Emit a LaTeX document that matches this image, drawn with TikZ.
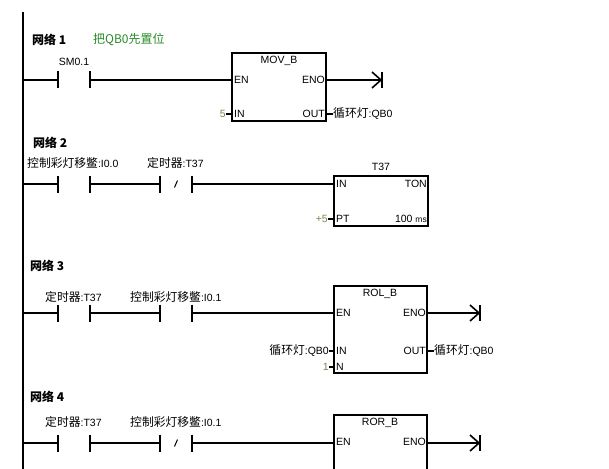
\documentclass[tikz,border=0pt]{standalone}
\usepackage{fontspec}
\setmainfont{Liberation Sans}
\newfontfamily\cjk{Noto Sans CJK SC}
\usetikzlibrary{calc}
\definecolor{cmtgreen}{RGB}{40,140,40}
\definecolor{constcol}{RGB}{130,130,80}
\newcommand{\zh}[1]{{\fontsize{11.8}{11.8}\selectfont\cjk #1}}
\tikzset{
  wire/.style={line width=1.3pt},
  plate/.style={line width=2pt},
  fbox/.style={draw, line width=1.5pt},
  lbl/.style={inner sep=0pt, font=\fontsize{10.5}{10.5}\selectfont},
  netttl/.style={inner sep=0pt, anchor=west, font=\fontsize{12}{12}\selectfont\cjk\bfseries},
  pin/.style={inner sep=0pt, font=\fontsize{10.5}{10.5}\selectfont},
  constv/.style={inner sep=0pt, anchor=east, text=constcol, font=\fontsize{10.5}{10.5}\selectfont},
}
% contact: #1 name prefix, #2 x-left, #3 y
\newcommand{\nocontact}[3]{%
  \coordinate (#1l) at (#2,#3);
  \coordinate (#1r) at (#2+32,#3);
  \draw[plate] (#2,#3-8.5) -- (#2,#3+8.5);
  \draw[plate] (#2+32,#3-8.5) -- (#2+32,#3+8.5);
}
\newcommand{\nccontact}[3]{%
  \nocontact{#1}{#2}{#3}
  \draw[line width=1pt] (#2+14.5,#3+3.5) -- (#2+17.5,#3-3.5);
}
\newcommand{\coil}[3]{%
  \coordinate (#1) at (#2,#3);
  \draw[line width=1.6pt] (#2-10,#3-8) -- (#2-1,#3) -- (#2-10,#3+8);
  \draw[line width=1.6pt] (#2,#3-8) -- (#2,#3+8);
}
\begin{document}
\begin{tikzpicture}[x=1pt,y=-1pt]
\useasboundingbox (0,0) rectangle (609,468);
\clip (0,0) rectangle (609,468);
\fill[white] (0,0) rectangle (609,468);
% power rail
\coordinate (railtop) at (23,12);
\coordinate (railbot) at (23,470);
\draw[line width=2.2pt] (railtop) -- (railbot);

% ================= Network 1
\node[netttl] (n1) at (32,40) {网络 1};
\node[inner sep=0pt, anchor=west, text=cmtgreen, font=\fontsize{12}{12}\selectfont\cjk] (c1) at (93,40) {把QB0先置位};
\coordinate (r1) at (23,80);
\nocontact{a1}{58}{80}
\node[lbl] (la1) at (74,62) {SM0.1};
\draw[fbox] (232,53) rectangle (326,121);
\node[pin] (movt) at (279,61) {MOV\_B};
\node[pin, anchor=west] (moven) at (234,80) {EN};
\node[pin, anchor=east] (moveno) at (325,80) {ENO};
\node[pin, anchor=west] (movin) at (234,114) {IN};
\node[pin, anchor=east] (movout) at (325,114) {OUT};
\coordinate (movENp) at (232,80);
\coordinate (movENOp) at (326,80);
\coordinate (movINp) at (232,114);
\coordinate (movOUTp) at (326,114);
\node[constv] (k5) at (226,114) {5};
\node[lbl, anchor=west] (movo) at (333,114) {\zh{循环灯}:QB0};
\draw[wire] (k5.east) -- (movINp);
\draw[wire] (movOUTp) -- (movo.west);
\draw[wire] (r1) -- (a1l);
\draw[wire] (a1r) -- (movENp);
\coil{coil1}{382}{80}
\draw[wire] (movENOp) -- (coil1);

% ================= Network 2
\node[netttl] (n2) at (33,143) {网络 2};
\node[lbl, anchor=west] (lb21) at (27,163) {\zh{控制彩灯移鳖}:I0.0};
\node[lbl, anchor=west] (lb22) at (147,163) {\zh{定时器}:T37};
\coordinate (r2) at (23,184);
\nocontact{b1}{58}{184}
\nccontact{b2}{160}{184}
\draw[fbox] (334,176) rectangle (428,226);
\node[lbl] (tt) at (381,167) {T37};
\node[pin, anchor=west] (tin) at (336,184) {IN};
\node[pin, anchor=east] (tton) at (427,184) {TON};
\node[pin, anchor=west] (tpt) at (336,219) {PT};
\node[pin, anchor=east] (tms) at (427,219) {100 {\fontsize{8.5}{8.5}\selectfont ms}};
\coordinate (tINp) at (334,184);
\coordinate (tPTp) at (334,219);
\node[constv] (k55) at (328,219) {+5};
\draw[wire] (k55.east) -- (tPTp);
\draw[wire] (r2) -- (b1l);
\draw[wire] (b1r) -- (b2l);
\draw[wire] (b2r) -- (tINp);

% ================= Network 3
\node[netttl] (n3) at (30,266) {网络 3};
\node[lbl, anchor=west] (lb31) at (45,297) {\zh{定时器}:T37};
\node[lbl, anchor=west] (lb32) at (130,297) {\zh{控制彩灯移鳖}:I0.1};
\coordinate (r3) at (23,313);
\nocontact{d1}{58}{313}
\nocontact{d2}{160}{313}
\draw[fbox] (334,286) rectangle (427,373);
\node[pin] (rolt) at (380,294) {ROL\_B};
\node[pin, anchor=west] (rolen) at (336,313) {EN};
\node[pin, anchor=east] (roleno) at (426,313) {ENO};
\node[pin, anchor=west] (rolin) at (336,351) {IN};
\node[pin, anchor=east] (rolout) at (426,351) {OUT};
\node[pin, anchor=west] (roln) at (336,367) {N};
\coordinate (rolENp) at (334,313);
\coordinate (rolENOp) at (427,313);
\coordinate (rolINp) at (334,351);
\coordinate (rolNp) at (334,367);
\coordinate (rolOUTp) at (427,351);
\node[lbl, anchor=east] (rolinv) at (329,351) {\zh{循环灯}:QB0};
\node[constv] (k1) at (329,367) {1};
\node[lbl, anchor=west] (rolov) at (434,351) {\zh{循环灯}:QB0};
\draw[wire] (rolinv.east) -- (rolINp);
\draw[wire] (k1.east) -- (rolNp);
\draw[wire] (rolOUTp) -- (rolov.west);
\draw[wire] (r3) -- (d1l);
\draw[wire] (d1r) -- (d2l);
\draw[wire] (d2r) -- (rolENp);
\coil{coil3}{480}{313}
\draw[wire] (rolENOp) -- (coil3);

% ================= Network 4
\node[netttl] (n4) at (30,397) {网络 4};
\node[lbl, anchor=west] (lb41) at (45,422) {\zh{定时器}:T37};
\node[lbl, anchor=west] (lb42) at (130,422) {\zh{控制彩灯移鳖}:I0.1};
\coordinate (r4) at (23,443);
\nocontact{e1}{58}{443}
\nccontact{e2}{160}{443}
\draw[fbox] (334,415) rectangle (427,480);
\node[pin] (rort) at (380,423) {ROR\_B};
\node[pin, anchor=west] (roren) at (336,442) {EN};
\node[pin, anchor=east] (roreno) at (426,442) {ENO};
\coordinate (rorENp) at (334,443);
\coordinate (rorENOp) at (427,443);
\draw[wire] (r4) -- (e1l);
\draw[wire] (e1r) -- (e2l);
\draw[wire] (e2r) -- (rorENp);
\coil{coil4}{480}{443}
\draw[wire] (rorENOp) -- (coil4);
\end{tikzpicture}
\end{document}
